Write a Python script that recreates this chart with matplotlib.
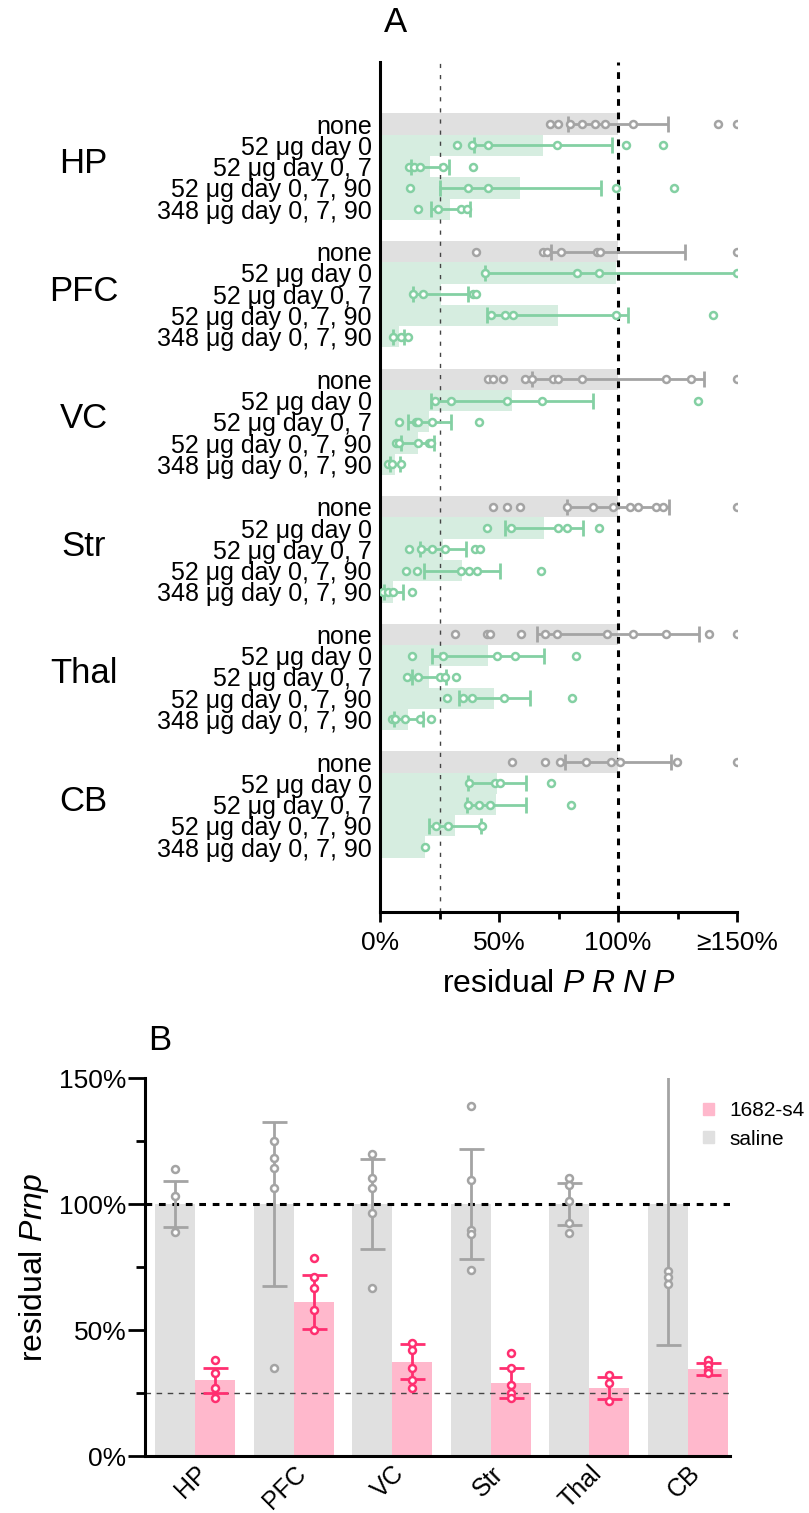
import matplotlib
matplotlib.use("Agg")
import matplotlib.pyplot as plt
from matplotlib.patches import Patch
from matplotlib.transforms import blended_transform_factory

plt.rcParams['font.family'] = ['Liberation Sans', 'DejaVu Sans']
plt.rcParams['mathtext.fontset'] = 'custom'
plt.rcParams['mathtext.rm'] = 'Liberation Sans'
plt.rcParams['mathtext.it'] = 'Liberation Sans:italic'

# ---- panel A data ----
regions = ["HP", "PFC", "VC", "Str", "Thal", "CB"]
treatments = ["none", "52 μg day 0", "52 μg day 0, 7",
              "52 μg day 0, 7, 90", "348 μg day 0, 7, 90"]

a_means = [
    [100, 68.6, 21.0, 59.0, 29.6],
    [100, 99.0, 25.5, 74.6, 7.9],
    [100, 55.3, 20.7, 15.8, 6.4],
    [100, 69.0, 26.5, 34.4, 5.5],
    [100, 45.5, 20.5, 48.0, 11.9],
    [100, 49.2, 48.9, 31.6, 18.9],
]
a_errs = [
    [21.2, 29.0, 8.1, 34.0, 8.2],
    [28.2, 55.0, 11.6, 29.5, 2.3],
    [36.0, 34.0, 9.1, 6.8, 2.0],
    [21.6, 16.5, 9.7, 16.0, 4.0],
    [34.0, 23.5, 7.2, 15.0, 6.0],
    [22.4, 12.1, 12.4, 11.0, 0.0],
]
a_points = [
    [[71.4, 74.9, 79.8, 84.7, 90.3, 94.5, 106.4, 142.2, 150],
     [32.2, 38.5, 45.5, 74.5, 103.2, 118.8],
     [12.0, 14.4, 16.8, 26.6, 39.2],
     [12.6, 37.1, 45.5, 99.0, 123.7],
     [15.8, 24.5, 33.9, 36.4]],
    [[40.3, 68.6, 70.0, 75.9, 91.0, 92.6, 150],
     [44.1, 82.6, 92.0, 150],
     [14.0, 17.9, 39.2, 40.3],
     [46.5, 52.5, 56.0, 99.0, 139.8],
     [5.3, 8.7, 11.9]],
    [[45.5, 47.3, 51.5, 60.9, 63.7, 72.8, 74.9, 84.7, 120.0, 130.7, 150],
     [23.1, 29.8, 53.2, 68.2, 133.8],
     [8.0, 15.1, 16.1, 21.7, 41.6],
     [6.7, 8.1, 15.8, 20.7, 21.4],
     [3.5, 4.9, 8.7]],
    [[47.6, 53.2, 58.8, 78.4, 89.6, 98.0, 105.0, 108.5, 116.0, 118.8, 150],
     [44.8, 54.9, 74.9, 78.7, 92.2],
     [12.3, 17.1, 21.7, 27.3, 39.9, 42.0],
     [10.9, 15.4, 33.9, 37.4, 40.9, 67.5],
     [1.4, 3.5, 5.6, 13.6]],
    [[31.5, 44.8, 46.2, 59.2, 69.3, 74.2, 95.5, 106.4, 120.2, 138.4, 150],
     [13.3, 26.6, 49.3, 56.7, 82.2],
     [11.2, 16.1, 25.2, 27.3, 31.8],
     [28.0, 35.0, 38.8, 52.1, 80.8],
     [4.9, 6.3, 10.5, 16.8, 21.3]],
    [[55.3, 69.3, 75.6, 86.4, 96.9, 100.8, 124.9, 150],
     [37.4, 48.3, 50.4, 71.8],
     [37.1, 41.7, 46.2, 80.3],
     [23.5, 28.7, 42.7],
     [18.9]],
]

# ---- panel B data ----
b_groups = ["HP", "PFC", "VC", "Str", "Thal", "CB"]
b_saline_mean = [100, 100, 100, 100, 100, 100]
b_saline_err = [9.0, 32.5, 18.0, 22.0, 8.2, 56.0]
b_saline_pts = [[113.9, 103.2, 88.8],
                [125.0, 118.4, 114.4, 106.5, 35.0],
                [119.7, 110.2, 106.5, 96.3, 66.5],
                [138.9, 109.5, 89.7, 88.0, 74.0],
                [110.2, 107.5, 101.2, 92.3, 88.4],
                [73.5, 70.9, 68.3, 187.3]]
b_aso_mean = [30.0, 61.0, 37.5, 29.0, 27.0, 34.5]
b_aso_err = [5.0, 10.8, 7.0, 6.0, 4.5, 2.5]
b_aso_pts = [[38.0, 33.0, 27.0, 23.0],
             [78.4, 70.9, 66.8, 57.9, 50.0],
             [45.0, 42.0, 35.0, 30.0, 27.0],
             [41.0, 35.0, 28.0, 25.0, 23.0],
             [32.0, 29.0, 22.0],
             [38.0, 36.0, 34.0, 33.0]]

GRAY_BAR = '#e0e0e0'
GRAY_PT = '#a4a4a4'
GREEN_BAR = '#d6ede0'
GREEN_PT = '#84d0a3'
PINK_BAR = '#ffb8cc'
PINK_PT = '#ff2f70'

W, H = 809, 1513
fig = plt.figure(figsize=(W / 100, H / 100), dpi=100)


def box(left, top, right, bottom):
    return [left / W, 1 - bottom / H, (right - left) / W, (bottom - top) / H]


# ================= panel A =================
ax = fig.add_axes(box(380, 62, 737, 911.7))
ticks = []
labels = []
for g, reg in enumerate(regions):
    for r, tr in enumerate(treatments):
        y = g * 6 + r
        ticks.append(y)
        labels.append(tr)
        bar_c = GRAY_BAR if r == 0 else GREEN_BAR
        pt_c = GRAY_PT if r == 0 else GREEN_PT
        ax.barh(y, a_means[g][r], height=1.0, color=bar_c, zorder=1)
        if a_errs[g][r] > 0:
            ax.errorbar(a_means[g][r], y, xerr=a_errs[g][r], color=pt_c,
                        lw=2, capsize=6, capthick=2, zorder=3)
        pts = a_points[g][r]
        ax.plot(pts, [y] * len(pts), 'o', ms=5, mfc='white', mec=pt_c,
                mew=1.8, zorder=4)
    ax.text(-0.83, g * 6 + 1.85, reg, transform=blended_transform_factory(
        ax.transAxes, ax.transData), fontsize=25, ha='center', va='center')

ax.axvline(25, color='#444444', lw=1.0, ls=(0, (3, 5)), zorder=2)
ax.axvline(100, color='black', lw=2.2, ls=(0, (2.2, 2.2)), zorder=2)
ax.set_xlim(0, 150)
ax.set_ylim(37.04, -2.92)
ax.set_yticks(ticks)
ax.set_yticklabels(labels, fontsize=18)
ax.tick_params(axis='y', length=0, pad=6)
ax.set_xticks([0, 50, 100, 150])
ax.set_xticklabels(['0%', '50%', '100%', '≥150%'], fontsize=19)
ax.set_xticks([25, 75, 125], minor=True)
ax.tick_params(axis='x', which='major', length=7, width=2, pad=7)
ax.tick_params(axis='x', which='minor', length=5, width=2)
for s in ['top', 'right']:
    ax.spines[s].set_visible(False)
for s in ['left', 'bottom']:
    ax.spines[s].set_linewidth(2.2)
ax.set_xlabel(r'residual $\mathit{P\;R\;N\;P}$', fontsize=23, labelpad=10)
fig.text(395 / W, 1 - 22 / H, 'A', fontsize=25, ha='center', va='center')

# ================= panel B =================
bx = fig.add_axes(box(145, 1078, 730, 1456))
bw = 0.406
for i in range(len(b_groups)):
    xs = i
    xt = i + bw
    bx.bar(xs, b_saline_mean[i], width=bw, color=GRAY_BAR, zorder=1)
    bx.bar(xt, b_aso_mean[i], width=bw, color=PINK_BAR, zorder=1)
    bx.errorbar(xs, b_saline_mean[i], yerr=b_saline_err[i], color=GRAY_PT,
                lw=2, capsize=9, capthick=2, zorder=3)
    bx.errorbar(xt, b_aso_mean[i], yerr=b_aso_err[i], color=PINK_PT,
                lw=2, capsize=9, capthick=2, zorder=3)
    bx.plot([xs] * len(b_saline_pts[i]), b_saline_pts[i], 'o', ms=5,
            mfc='white', mec=GRAY_PT, mew=1.8, zorder=4)
    bx.plot([xt] * len(b_aso_pts[i]), b_aso_pts[i], 'o', ms=5,
            mfc='white', mec=PINK_PT, mew=1.8, zorder=4)

bx.axhline(100, color='black', lw=2.2, ls=(0, (2.2, 2.2)), zorder=2)
bx.axhline(25, color='#444444', lw=1.0, ls=(0, (4, 4)), zorder=2)
bx.set_xlim(-0.305, 5.63)
bx.set_ylim(0, 150)
bx.set_yticks([0, 50, 100, 150])
bx.set_yticklabels(['0%', '50%', '100%', '150%'], fontsize=19)
bx.set_yticks([25, 75, 125], minor=True)
bx.tick_params(axis='y', which='major', length=12.5, width=2, pad=1)
bx.tick_params(axis='y', which='minor', length=6.5, width=2)
bx.set_xticks([i + bw / 2 for i in range(len(b_groups))])
bx.set_xticklabels(b_groups, fontsize=18, rotation=45, ha='right',
                   rotation_mode='anchor')
bx.tick_params(axis='x', length=0, pad=4)
for s in ['top', 'right']:
    bx.spines[s].set_visible(False)
for s in ['left', 'bottom']:
    bx.spines[s].set_linewidth(2.2)
bx.set_ylabel(r'residual $\mathit{Prnp}$', fontsize=23, labelpad=6)
handles = [Patch(color=PINK_BAR, label='1682-s4'),
           Patch(color=GRAY_BAR, label='saline')]
bx.legend(handles=handles, loc='upper left', bbox_to_anchor=(0.94, 0.96),
          frameon=False, fontsize=15, handlelength=0.5, handleheight=0.5,
          handletextpad=0.75, labelspacing=0.45, borderaxespad=0)
fig.text(160 / W, 1 - 1040 / H, 'B', fontsize=25, ha='center', va='center')

fig.savefig('out.png', dpi=100)
